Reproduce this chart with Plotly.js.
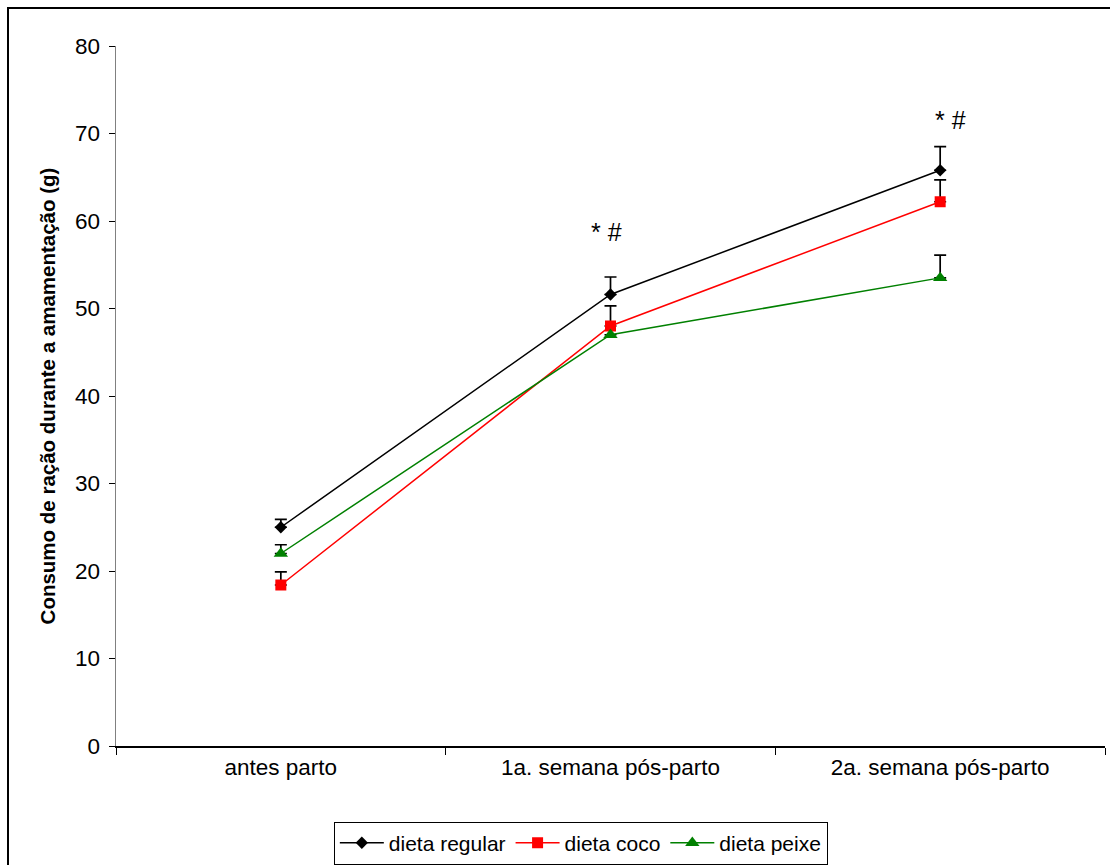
<!DOCTYPE html>
<html>
<head>
<meta charset="utf-8">
<script src="https://cdn.plot.ly/plotly-3.0.1.min.js"></script>
<style>
html,body{margin:0;padding:0;background:#fff;overflow:hidden;}
#wrap{position:relative;width:1110px;height:865px;}
#chart{position:absolute;left:0;top:0;width:1110px;height:865px;}
#frame{position:absolute;left:7px;top:7px;width:1120px;height:880px;border-left:2px solid #000;border-top:2px solid #000;pointer-events:none;}
</style>
</head>
<body>
<div id="wrap"><div id="chart"></div><div id="frame"></div></div>
<script>
const categories = ["antes parto", "1a. semana pós-parto", "2a. semana pós-parto"];
const regular = [25.0, 51.6, 65.8];
const regularErr = [0.9, 2.0, 2.7];
const coco = [18.4, 48.0, 62.2];
const cocoErr = [1.5, 2.3, 2.5];
const peixe = [22.0, 47.0, 53.5];
const peixeErr = [1.0, 0, 2.6];
const seriesNames = ["dieta regular", "dieta coco", "dieta peixe"];
const yTicks = [0, 10, 20, 30, 40, 50, 60, 70, 80];
const sigLabel = "* #";
const sigPoints = [1, 2];
const sigY = [58.7, 71.6];

function errY(arr) {
  return {type: 'data', symmetric: false, array: arr, arrayminus: arr.map(() => 0),
          color: '#000', thickness: 1.7, width: 6};
}

const traces = [
  {x: categories, y: regular, name: seriesNames[0], type: 'scatter', mode: 'lines+markers',
   line: {color: '#000', width: 1.5}, marker: {symbol: 'diamond', size: 9.5, color: '#000'},
   error_y: errY(regularErr)},
  {x: categories, y: coco, name: seriesNames[1], type: 'scatter', mode: 'lines+markers',
   line: {color: '#ff0000', width: 1.5}, marker: {symbol: 'square', size: 11, color: '#ff0000'},
   error_y: errY(cocoErr)},
  {x: categories, y: peixe, name: seriesNames[2], type: 'scatter', mode: 'lines+markers',
   line: {color: '#008000', width: 1.5}, marker: {symbol: 'triangle-up', size: 12.5, color: '#008000'},
   error_y: errY(peixeErr)}
];

const annotations = sigPoints.map((p, i) => ({
  x: categories[p], y: sigY[i], xref: 'x', yref: 'y', text: sigLabel, showarrow: false,
  xshift: i === 0 ? -4 : 10,
  font: {family: 'Liberation Sans, Arial, sans-serif', size: 25, color: '#000'}
}));

const layout = {
  width: 1110, height: 865,
  margin: {l: 116, r: 5, t: 46, b: 119, autoexpand: false},
  paper_bgcolor: '#fff', plot_bgcolor: '#fff',
  font: {family: 'Liberation Sans, Arial, sans-serif', size: 22, color: '#000'},
  showlegend: true,
  legend: {orientation: 'h', x: 0.47, xanchor: 'center', y: -0.108, yanchor: 'top',
           bordercolor: '#000', borderwidth: 1, bgcolor: '#fff',
           font: {size: 21}, itemwidth: 44, tracegroupgap: 0},
  xaxis: {type: 'category', range: [-0.5, 2.5], tickson: 'boundaries', ticks: 'outside',
          ticklen: 7, tickcolor: '#000', tickwidth: 1, showline: true, linecolor: '#000', linewidth: 1.5,
          showgrid: false, zeroline: false, fixedrange: true, tickfont: {size: 22.5}},
  yaxis: {range: [0, 80], tickvals: yTicks, ticks: 'outside', ticklen: 6, tickcolor: '#000',
          showline: true, linecolor: '#808080', linewidth: 1.5, showgrid: false, zeroline: false,
          tickfont: {size: 22.5}, ticklabelstandoff: 4,
          title: {text: '<b>Consumo de ração durante a amamentação (g)</b>', font: {size: 20.5}, standoff: 14}},
  annotations: annotations
};

Plotly.newPlot('chart', traces, layout, {displayModeBar: false, staticPlot: true});
</script>
</body>
</html>
